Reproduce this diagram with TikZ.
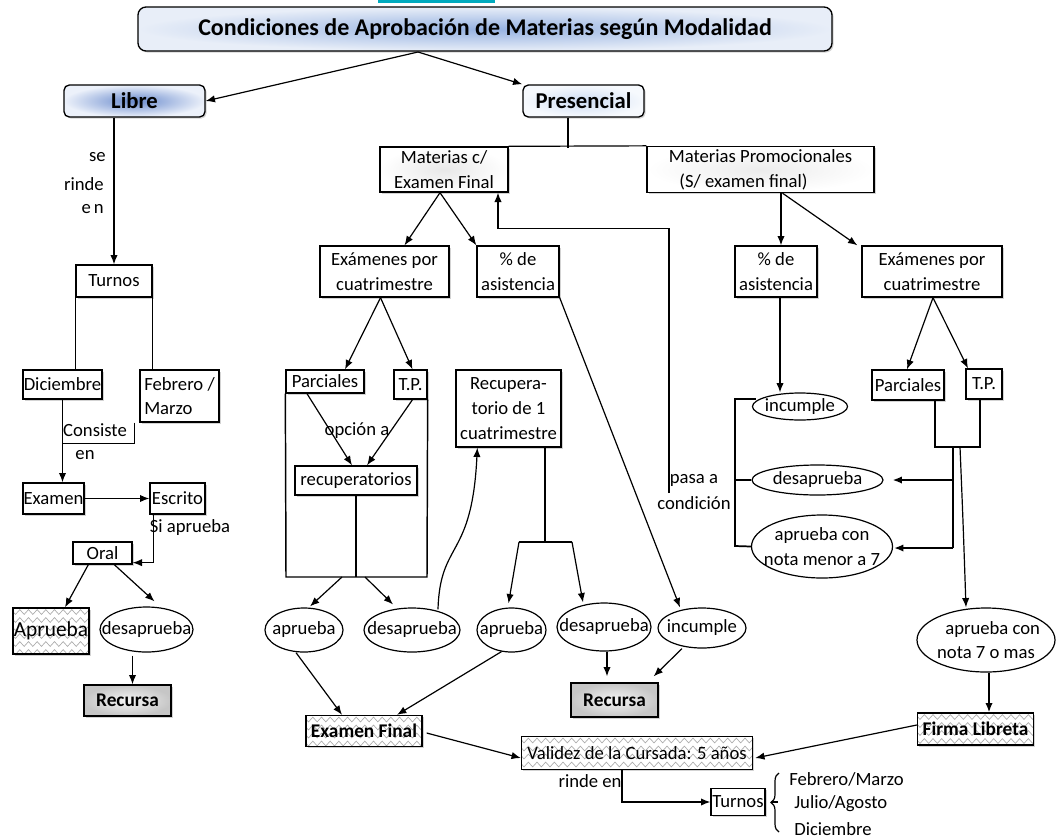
\documentclass[tikz,border=0pt]{standalone}
\usepackage{fontspec}
\setmainfont{Carlito}
\usetikzlibrary{arrows.meta,calc,shapes.geometric,decorations.pathmorphing,decorations.pathreplacing,shadows}
\newcommand\nf{\fontsize{14}{18.5}\selectfont}
\tikzset{
  shd/.style={drop shadow={shadow xshift=1.2pt,shadow yshift=-1.2pt,opacity=0.35}},
  bx/.style 2 args={draw, line width=1pt, rectangle, inner sep=0pt, align=center, font=\nf, fill=white,
     minimum width=#1*0.75pt, minimum height=#2*0.75pt, shd},
  el/.style 2 args={draw, ellipse, line width=0.9pt, inner sep=0pt, fill=white,
     minimum width=#1*0.75pt, minimum height=#2*0.75pt},
  txt/.style={font=\nf, align=center, inner sep=0pt},
  arr/.style={-{Latex[length=7pt,width=5.5pt]}, line width=0.9pt},
  ln/.style={line width=0.9pt},
  wavy/.style={path picture={
     \foreach \k in {0,...,10}{
       \draw[gray!65, line width=0.5pt, decorate, decoration={zigzag, segment length=6.5pt, amplitude=1.8pt}]
        ([yshift=-\k*6pt-3pt,xshift=-3pt]path picture bounding box.north west) --
        ([yshift=-\k*6pt-3pt,xshift=3pt]path picture bounding box.north east);}}},
  graybox/.style={inner color=gray!8, outer color=gray!45},
  bluebox/.style={inner color={rgb,255:red,150;green,178;blue,225}, outer color={rgb,255:red,232;green,238;blue,248}},
  bf/.style={font=\fontsize{14.5}{18}\selectfont\bfseries},
}
\begin{document}
\begin{tikzpicture}[x=0.75pt,y=-0.75pt]
\useasboundingbox (0,0) rectangle (1056,839);
\fill[fill={rgb,255:red,0;green,170;blue,190}] (378,0) rectangle (495,3);

% ---- top ----
\node[bx={694}{44}, rounded corners=6pt, bluebox, font=\fontsize{18}{22}\selectfont\bfseries] (title) at (485,29) {Condiciones de Aprobación de Materias según Modalidad};
\node[bx={141}{32}, rounded corners=4pt, inner color={rgb,255:red,105;green,138;blue,205}, outer color={rgb,255:red,236;green,241;blue,250}, font=\fontsize{17}{20}\selectfont\bfseries] (libre) at (134.5,101) {Libre};
\node[bx={121}{32}, rounded corners=4pt, inner color={rgb,255:red,205;green,220;blue,243}, outer color={rgb,255:red,246;green,249;blue,253}, font=\fontsize{17}{20}\selectfont\bfseries] (pres) at (583.5,101) {Presencial};
\coordinate (tb) at (418,52);
\draw[arr] (tb) -- (libre.east);
\draw[arr] (tb) -- (pres.north west);

% ---- Libre branch ----
\node[bx={76}{32}] (turnos) at (114,281) {Turnos};
\draw[arr] (libre.south -| turnos.north) -- (turnos.north);
\node[txt, anchor=east] (l1) at (106,157) {se};
\node[txt, anchor=east] (l2) at (104,184) {rinde};
\node[txt, anchor=east] (l3) at (104,209) {e\,n};
\node[bx={79}{29}] (dic) at (62.5,384.5) {Diciembre};
\node[bx={79}{52}, align=left] (feb) at (179.5,396) {Febrero /\\Marzo};
\draw[ln] (turnos.south west) -- (turnos.south west |- dic.north);
\draw[ln] (turnos.south east) -- (turnos.south east |- feb.north);
\node[bx={61}{31}] (examen) at (53.5,498.5) {Examen};
\draw[arr] (dic.south) -- (dic.south |- examen.north);
\draw[ln] ($(feb.south west)+(-5,0)$) |- ($(dic.south)+(0,44)$);
\node[txt] (cons) at (95,430) {Consiste};
\node[txt] (cen) at (85,455) {en};
\node[bx={55}{31}] (escrito) at (177.5,498.5) {Escrito};
\draw[arr] (examen.east) -- (escrito.west);
\node[txt] (siap) at (190,528) {Si aprueba};
\node[bx={59}{22}] (oral) at (102.5,553) {Oral};
\draw[arr] ($(escrito.south west)+(4,0)$) |- ($(oral.south east)+(0,-2)$);
\node[bx={76}{46}, wavy, font=\fontsize{16}{18}\selectfont] (apr1) at (51,631) {Aprueba};
\node[el={93}{45}] (des1) at (146.5,629.5) {};
\node[txt] at (des1) {desaprueba};
\draw[arr] ($(oral.south west)+(16,0)$) -- ($(apr1.north)+(14,0)$);
\draw[arr] ($(oral.south west)+(42,0)$) -- ($(des1.north)+(8,-5)$);
\node[bx={87}{31}, graybox, bf] (rec1) at (127.5,700.5) {Recursa};
\coordinate (d1s) at ($(des1.south)+(-14,3)$);
\draw[arr] (d1s) -- (d1s |- rec1.north);

% ---- Presencial branch ----
\node[bx={128}{45}, inner color=gray!18, outer color=white] (matc) at (444,169.5) {Materias c/\\Examen Final};
\node[bx={227}{46}, inner color=gray!15, outer color=white, align=left] (matp) at (760.5,169.5) {Materias Promocionales\\\hspace*{8pt}(S/ examen final)};
\draw[ln] ($(pres.south)+(-15.5,0)$) -- ($(pres.south)+(-15.5,30)$);
\draw[ln] (matc.north east) -- (matp.north west);

\node[bx={129}{51}] (exa1) at (384.5,271.5) {Exámenes por\\cuatrimestre};
\node[bx={82}{51}] (asis1) at (518,271.5) {\% de\\asistencia};
\draw[arr] ($(matc.south)+(-4,0)$) -- ($(exa1.north)+(20,0)$);
\draw[arr] ($(matc.south)+(-4,0)$) -- (asis1.north west);

\node[bx={78}{23}] (parc1) at (325,381.5) {Parciales};
\node[bx={33}{29}] (tp1) at (410.5,384.5) {T.P.};
\draw[arr] ($(exa1.south)+(-4,0)$) -- ($(parc1.north)+(20,0)$);
\draw[arr] ($(exa1.south)+(-4,0)$) -- ($(tp1.north)+(2,0)$);
\node[bx={122}{29}] (recup) at (356,480.5) {recuperatorios};
\draw[arr] ($(parc1.south)+(-18,0)$) -- ($(recup.north)+(-4,0)$);
\draw[arr] ($(tp1.south)+(2,0)$) -- ($(recup.north)+(11,0)$);
\node[txt] (opc) at (357,431) {opción a};
\coordinate (bigbl) at (286,577);
\coordinate (bigbr) at (427,577);
\draw[line width=1.1pt] (parc1.south west) -- (bigbl) -- (bigbr) -- (tp1.south east);
\draw[ln] (recup.south) -- (recup.south |- bigbl);

\node[el={78}{44}] (apr2) at (304,630) {};
\node[txt] at (apr2) {aprueba};
\node[el={96}{44}] (des2) at (412,630) {};
\node[txt] at (des2) {desaprueba};
\draw[arr] ($(bigbl)+(56,0)$) -- ($(apr2.north)+(6,-1)$);
\draw[arr] ($(bigbl)+(79,0)$) -- ($(des2.north)+(-19,-3)$);

\node[bx={105}{77}] (recup1) at (508.5,408.5) {Recupera-\\torio de 1\\cuatrimestre};
\draw[arr] ($(des2.north)+(26,2)$) .. controls (440,540) and (472,560) .. ($(recup1.south west)+(22,0)$);
\coordinate (rj) at (545,542);
\draw[ln] (recup1.south -| rj) -- (rj);
\coordinate (rjl) at (519,542);
\coordinate (rjr) at (572,542);
\draw[ln] (rjl) -- (rjr);
\node[el={69}{44}] (apr3) at (511.5,630) {};
\node[txt] at (apr3) {aprueba};
\node[el={94}{48}] (des3) at (604,627) {};
\node[txt] at (des3) {desaprueba};
\node[el={88}{40}] (inc1) at (702,628) {};
\node[txt] at (inc1) {incumple};
\draw[arr] (rjl) -- ($(apr3.north)+(-3,-4)$);
\draw[arr] (rjr) -- ($(des3.north)+(-21,0)$);
\draw[arr] (asis1.south east) -- ($(inc1.north)+(-22,0)$);

\coordinate (pasa) at (669,493);
\draw[arr] (pasa) |- ($(matc.south)+(54,36)$) -- ($(matc.south)+(54,0)$);
\node[txt] (pa1) at (694,480) {pasa a};
\node[txt] (pa2) at (694,503) {condición};

\node[bx={87}{34}, graybox, bf] (rec2) at (614.5,700) {Recursa};
\draw[arr] ($(des3.south)+(3,0)$) -- ($(rec2.north)+(-7.5,-6)$);
\draw[arr] ($(inc1.south)+(-20,0)$) -- ($(rec2.north east)+(-5,-6)$);

\node[bx={116}{31}, wavy, bf] (exfinal) at (364,731) {Examen Final};
\draw[arr] ($(apr2.south)+(-8,0)$) -- ($(exfinal.north)+(-22,0)$);
\draw[arr] ($(apr3.south)+(-10,-1)$) -- ($(exfinal.north)+(33,0)$);

\node[bx={231}{33}, wavy] (validez) at (637,753) {Validez de la Cursada: 5 años};
\draw[arr] ($(exfinal.east)+(4,2)$) -- ($(validez.west)+(0,5)$);

% ---- Promocionales branch ----
\node[bx={82}{51}] (asis2) at (776,271.5) {\% de\\asistencia};
\node[bx={140}{51}] (exa2) at (932,271.5) {Exámenes por\\cuatrimestre};
\draw[arr] ($(matp.south)+(20.5,0)$) -- ($(asis2.north)+(5,0)$);
\draw[arr] ($(matp.south)+(22,0)$) -- ($(exa2.north west)+(-4,0)$);
\node[el={95}{27}] (inc2) at (800,406.5) {};
\node[txt] at (inc2) {incumple};
\coordinate (a2s) at ($(asis2.south)+(4,0)$);
\draw[arr] (a2s) -- (a2s |- inc2.north);
\node[el={131}{30}] (des4) at (817.5,480) {};
\node[txt] at (des4) {desaprueba};
\node[el={141}{63}] (apr4) at (822,546.5) {};
\node[txt] at (apr4) {aprueba con\\nota menor a 7};
\coordinate (bkt) at (735,399);
\coordinate (bkb) at (735,546);
\draw[line width=1.3pt] ($(inc2.west)+(4,-7.5)$) -- (bkt) -- (bkb) -- (apr4.west);
\draw[line width=1.3pt] (des4.west) -- (des4.west -| bkt);

\node[bx={72}{30}] (parc2) at (908,385) {Parciales};
\node[bx={36}{30}] (tp2) at (984,384) {T.P.};
\draw[arr] ($(exa2.south)+(1,0)$) -- ($(parc2.north)+(-1,0)$);
\draw[arr] ($(exa2.south)+(1,0)$) -- ($(tp2.north)+(-16,0)$);
\coordinate (pj) at (935,447);
\coordinate (tj) at (980,447);
\draw[line width=1.2pt] (parc2.south -| pj) -- (pj) -- (tj) -- (tp2.south -| tj);
\coordinate (vj) at (953,447);
\coordinate (vb) at (953,548);
\draw[line width=1.2pt] (vj) -- (vb);
\draw[arr, line width=1.2pt] (vj |- des4.east) -- ($(des4.east)+(9,0)$);
\draw[arr, line width=1.2pt] (vb) -- ($(apr4.east)+(1,1.5)$);
\node[el={138}{64}] (apr5) at (986,640) {};
\node[txt] at (apr5) {\hspace*{10pt}aprueba con\\nota 7 o mas};
\draw[arr] ($(vj)+(7,0)$) .. controls (963,520) .. ($(apr5.north)+(-20,0)$);
\node[bx={116}{32}, wavy, bf] (firma) at (975.5,729) {Firma Libreta};
\coordinate (a5s) at ($(apr5.south)+(3,0)$);
\draw[arr, line width=1.2pt] (a5s) -- (a5s |- firma.north);
\draw[arr] ($(firma.west)+(0,-4)$) -- ($(validez.east)+(2,5)$);

% ---- bottom ----
\node[bx={54}{27}] (turnos2) at (738,802) {Turnos};
\draw[arr] ($(validez.south)+(-15,0)$) |- (turnos2.west);
\node[txt] (rinde) at (590,781) {rinde en};
\coordinate (bt1) at (779,832);
\coordinate (bt2) at (779,773);
\draw[ln] ($(turnos2.east)+(5,0)$) -- ($(turnos2.east)+(12,0)$);
\draw[ln, decorate, decoration={brace, amplitude=6pt}] (bt1) -- (bt2);
\node[txt, anchor=west] (m1) at (789,779) {Febrero/Marzo};
\node[txt, anchor=west] (m2) at (794,804) {Julio/Agosto};
\node[txt, anchor=west] (m3) at (794,829) {Diciembre};
\end{tikzpicture}
\end{document}
